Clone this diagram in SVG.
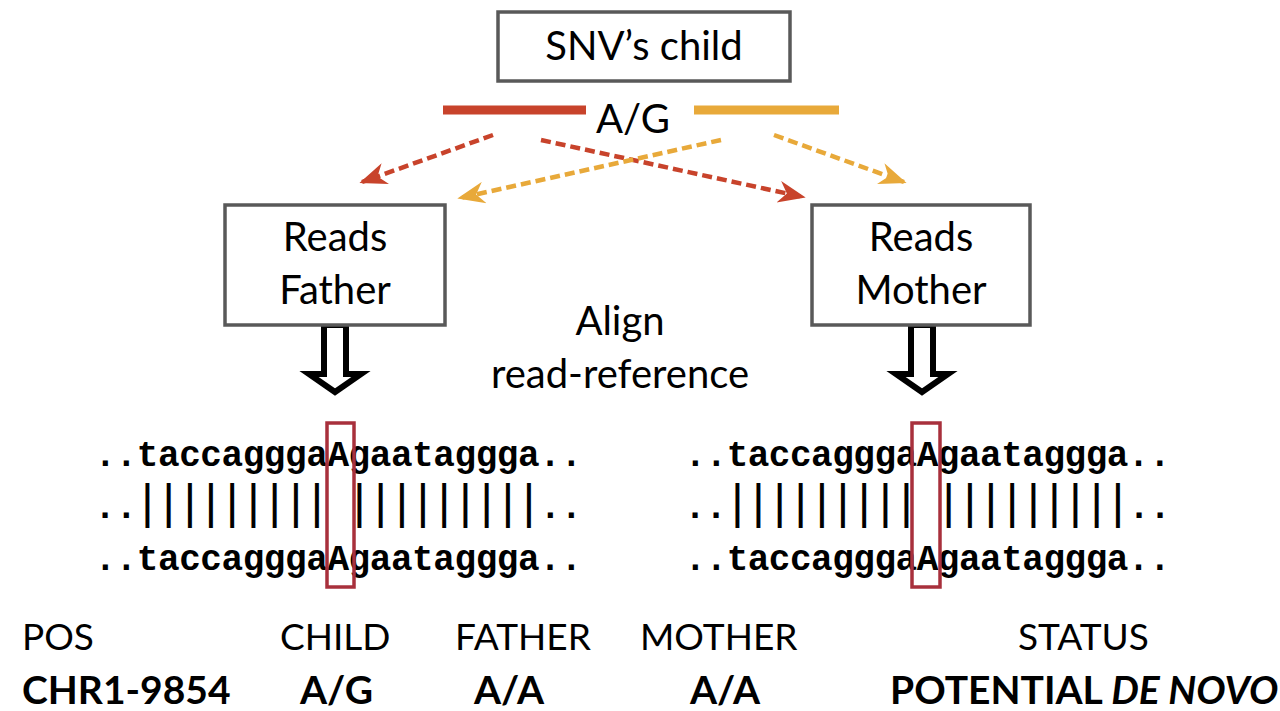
<svg xmlns="http://www.w3.org/2000/svg" width="1280" height="711" viewBox="0 0 1280 711">
<style>
.box{fill:#fff;stroke:#595959;stroke-width:3.5}
.lbl{font-family:Lato,"Liberation Sans",sans-serif;font-size:40px;fill:#000}
.hdr{font-family:Lato,"Liberation Sans",sans-serif;font-size:37px;fill:#000}
.val{font-family:Lato,"Liberation Sans",sans-serif;font-size:39px;font-weight:bold;fill:#000}
.seq{font-family:"Liberation Mono","Courier New",monospace;font-size:36px;font-weight:bold;fill:#000}
.bar{font-family:"Liberation Mono","Courier New",monospace;font-size:48px;font-weight:normal;fill:#000}
.hollow{fill:#fff;stroke:#000;stroke-width:6;stroke-linejoin:miter}
.dr{fill:none;stroke:#C8432B;stroke-width:4.5;stroke-dasharray:10 5}
.do{fill:none;stroke:#E8A93A;stroke-width:4.5;stroke-dasharray:10 5}
.hl{fill:none;stroke:#A8303C;stroke-width:3.5}
</style>
<defs>
<marker id="ar" viewBox="0 0 20 16" markerWidth="28" markerHeight="22" refX="18" refY="8" orient="auto" markerUnits="userSpaceOnUse"><path d="M0,0 L20,8 L0,16 L6,8 z" fill="#C8432B"/></marker>
<marker id="ao" viewBox="0 0 20 16" markerWidth="28" markerHeight="22" refX="18" refY="8" orient="auto" markerUnits="userSpaceOnUse"><path d="M0,0 L20,8 L0,16 L6,8 z" fill="#E8A93A"/></marker>
</defs>
<rect width="1280" height="711" fill="#fff"/>

<g id="snv-child">
<rect class="box" x="498" y="12" width="292" height="69"/>
<text class="lbl" x="644" y="60" text-anchor="middle">SNV’s child</text>
</g>

<g id="alleles">
<line x1="443" y1="110" x2="586" y2="110" stroke="#C8432B" stroke-width="9"/>
<line x1="694" y1="110" x2="839" y2="110" stroke="#E8A93A" stroke-width="9"/>
<text class="lbl" x="633" y="133" text-anchor="middle">A/G</text>
</g>

<g id="connectors">
<line class="dr" x1="493" y1="135" x2="362" y2="182" marker-end="url(#ar)"/>
<line class="dr" x1="541" y1="140" x2="803" y2="197" marker-end="url(#ar)"/>
<line class="do" x1="721" y1="140" x2="460" y2="198" marker-end="url(#ao)"/>
<line class="do" x1="774" y1="135" x2="904" y2="182" marker-end="url(#ao)"/>
<polygon class="hollow" points="324,325 346,325 346,374 361,374 335,392 309,374 324,374"/>
<polygon class="hollow" points="911,325 933,325 933,374 948,374 922,392 896,374 911,374"/>
</g>

<g id="reads-father">
<rect class="box" x="225" y="205" width="220" height="120"/>
<text class="lbl" x="335" y="251" text-anchor="middle">Reads</text>
<text class="lbl" x="335" y="304" text-anchor="middle">Father</text>
</g>

<g id="reads-mother">
<rect class="box" x="812" y="205" width="218" height="120"/>
<text class="lbl" x="921" y="251" text-anchor="middle">Reads</text>
<text class="lbl" x="921" y="304" text-anchor="middle">Mother</text>
</g>

<g id="align-label">
<text class="lbl" x="620" y="335" text-anchor="middle">Align</text>
<text class="lbl" x="620" y="388" text-anchor="middle">read-reference</text>
</g>

<g id="father-alignment">
<text class="seq" x="94.4" y="466" textLength="487.6" lengthAdjust="spacing">..taccagggaAgaataggga..</text>
<text class="seq" y="518" text-anchor="middle"><tspan x="105 126.2">..</tspan><tspan class="bar" x="147.4 168.6 189.8 211 232.2 253.4 274.6 295.8 317 359.4 380.6 401.8 423 444.2 465.4 486.6 507.8 529">||||||||||||||||||</tspan><tspan x="550.2 571.4">..</tspan></text>
<text class="seq" x="94.4" y="570" textLength="487.6" lengthAdjust="spacing">..taccagggaAgaataggga..</text>
<rect class="hl" x="327" y="423" width="27" height="164"/>
</g>

<g id="mother-alignment">
<text class="seq" x="684.4" y="466" textLength="486.2" lengthAdjust="spacing">..taccagggaAgaataggga..</text>
<text class="seq" y="518" text-anchor="middle"><tspan x="695 716.1">..</tspan><tspan class="bar" x="737.3 758.4 779.6 800.7 821.8 843 864.1 885.3 906.4 948.7 969.8 991 1012.1 1033.3 1054.4 1075.5 1096.7 1117.8">||||||||||||||||||</tspan><tspan x="1139 1160.1">..</tspan></text>
<text class="seq" x="684.4" y="570" textLength="486.2" lengthAdjust="spacing">..taccagggaAgaataggga..</text>
<rect class="hl" x="912" y="423" width="28" height="164"/>
</g>

<g id="table">
<text class="hdr" x="22" y="650">POS</text>
<text class="hdr" x="280" y="650">CHILD</text>
<text class="hdr" x="455" y="650">FATHER</text>
<text class="hdr" x="640" y="650">MOTHER</text>
<text class="hdr" x="1018" y="650">STATUS</text>
<text class="val" x="22" y="704">CHR1-9854</text>
<text class="val" x="300" y="704">A/G</text>
<text class="val" x="474" y="704">A/A</text>
<text class="val" x="690" y="704">A/A</text>
<text class="val" x="890" y="704">POTENTIAL <tspan font-style="italic">DE NOVO</tspan></text>
</g>
</svg>
